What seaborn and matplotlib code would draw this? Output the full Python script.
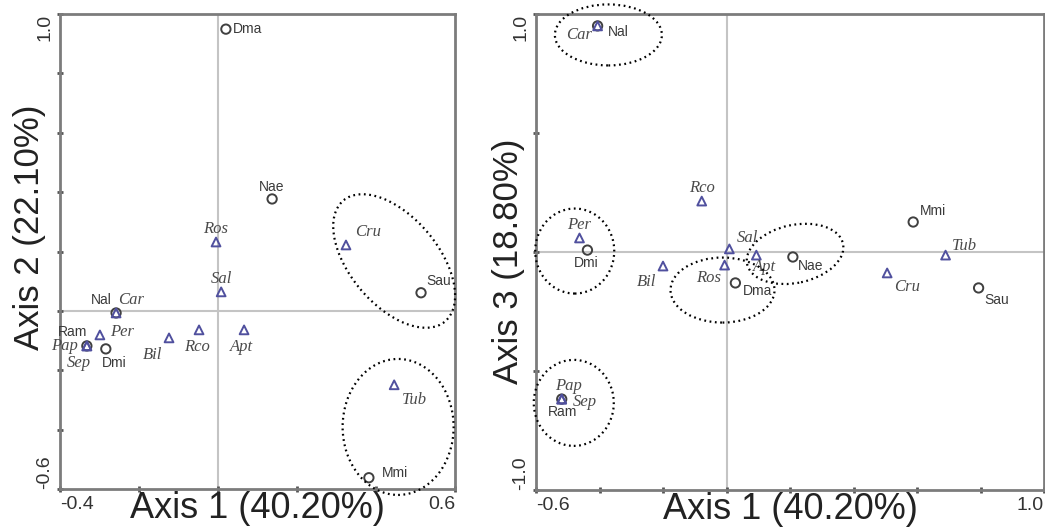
import numpy as np
import pandas as pd
import seaborn as sns
import matplotlib.pyplot as plt
from matplotlib import transforms
from matplotlib.patches import Ellipse

# species (circles) and prey groups (triangles)
species = ['Dma', 'Nae', 'Sau', 'Nal', 'Ram', 'Dmi', 'Mmi']
groups = ['Ros', 'Cru', 'Sal', 'Car', 'Per', 'Pap', 'Sep', 'Bil', 'Rco', 'Apt', 'Tub']

# left plot: axis 1 vs axis 2
sp_x_left = [0.020, 0.137, 0.514, -0.258, -0.332, -0.284, 0.382]
sp_y_left = [0.949, 0.377, 0.061, -0.007, -0.118, -0.128, -0.562]
gr_x_left = [-0.005, 0.324, 0.008, -0.258, -0.299, -0.332, -0.332, -0.124, -0.048, 0.066, 0.446]
gr_y_left = [0.232, 0.222, 0.064, -0.007, -0.081, -0.118, -0.118, -0.091, -0.064, -0.064, -0.249]

# right plot: axis 1 vs axis 3
sp_x_right = [0.028, 0.209, 0.794, -0.406, -0.519, -0.438, 0.588]
sp_y_right = [-0.130, -0.021, -0.151, 0.950, -0.618, 0.008, 0.126]
gr_x_right = [-0.006, 0.506, 0.009, -0.406, -0.463, -0.519, -0.519, -0.200, -0.078, 0.094, 0.690]
gr_y_right = [-0.055, -0.088, 0.013, 0.950, 0.059, -0.618, -0.618, -0.059, 0.214, -0.013, -0.013]

# label placement (pixels from the marker, alignment)
left_offsets = {
    'Dma': (7, 0, 'left'), 'Nae': (0, 12, 'center'), 'Sau': (5, 12, 'left'),
    'Nal': (-4, 13, 'right'), 'Ram': (0, 14, 'right'), 'Dmi': (8, -14, 'center'),
    'Mmi': (13, 5, 'left'),
    'Ros': (0, 13, 'center'), 'Cru': (9, 13, 'left'), 'Sal': (0, 13, 'center'),
    'Car': (2, 13, 'left'), 'Per': (10, 3, 'left'), 'Pap': (-9, 0, 'right'),
    'Sep': (-8, -17, 'center'), 'Bil': (-7, -17, 'right'), 'Rco': (-2, -17, 'center'),
    'Apt': (-3, -17, 'center'), 'Tub': (8, -15, 'left'),
}
right_offsets = {
    'Dma': (7, -8, 'left'), 'Nae': (5, -9, 'left'), 'Sau': (6, -12, 'left'),
    'Nal': (10, -6, 'left'), 'Ram': (1, -13, 'center'), 'Dmi': (-1, -13, 'center'),
    'Mmi': (7, 11, 'left'),
    'Ros': (-4, -13, 'right'), 'Cru': (7, -14, 'left'), 'Sal': (7, 11, 'left'),
    'Car': (-6, -9, 'right'), 'Per': (0, 13, 'center'), 'Pap': (7, 13, 'center'),
    'Sep': (11, -3, 'left'), 'Bil': (-7, -16, 'right'), 'Rco': (0, 13, 'center'),
    'Apt': (8, -12, 'center'), 'Tub': (6, 9, 'left'),
}

# dotted group ellipses: centre (data), width/height in pixels, angle
left_ellipses = [(0.446, 0.168, 158, 88, -50), (0.456, -0.391, 111, 136, 0)]
right_ellipses = [(-0.372, 0.912, 107, 61, 0), (-0.478, 0.004, 79, 85, 0),
                  (-0.481, -0.634, 80, 86, 0), (-0.0125, -0.160, 104, 65, 0),
                  (0.216, -0.008, 98, 58, 12)]

sns.set_theme(style='white')
plt.rcParams['font.family'] = ['Liberation Sans', 'DejaVu Sans']

fig = plt.figure(figsize=(10.45, 5.27), dpi=100)
ax1 = fig.add_axes([60 / 1045, 1 - 489 / 527, 395 / 1045, 475 / 527])
ax2 = fig.add_axes([536 / 1045, 1 - 490 / 527, 508 / 1045, 476 / 527])


def draw_panel(ax, sx, sy, gx, gy, offsets, ellipses, xlim, ylim, xticks, yticks,
               xlab, ylab, ylab_y):
    ax.axhline(0, color='#c4c4c4', lw=1.5, zorder=0)
    ax.axvline(0, color='#c4c4c4', lw=1.5, zorder=0)

    sp = pd.DataFrame({'x': sx, 'y': sy, 'name': species})
    gr = pd.DataFrame({'x': gx, 'y': gy, 'name': groups})
    sns.scatterplot(data=sp, x='x', y='y', marker='o', s=45, ax=ax, zorder=3)
    pts = ax.collections[-1]
    pts.set_facecolor('none')
    pts.set_edgecolor('#404040')
    pts.set_linewidth(1.4)
    sns.scatterplot(data=gr, x='x', y='y', marker='^', s=40, ax=ax, zorder=3)
    pts = ax.collections[-1]
    pts.set_facecolor('none')
    pts.set_edgecolor('#50509e')
    pts.set_linewidth(1.4)

    for _, r in sp.iterrows():
        dx, dy, ha = offsets[r['name']]
        ax.annotate(r['name'], (r['x'], r['y']), xytext=(dx, dy), textcoords='offset pixels',
                    ha=ha, va='center', fontsize=10, color='#3a3a3a')
    for _, r in gr.iterrows():
        dx, dy, ha = offsets[r['name']]
        ax.annotate(r['name'], (r['x'], r['y']), xytext=(dx, dy), textcoords='offset pixels',
                    ha=ha, va='center', fontsize=12, color='#4a4a4a',
                    family='Liberation Serif', style='italic')

    for cx, cy, w, h, ang in ellipses:
        trans = fig.dpi_scale_trans + transforms.ScaledTranslation(cx, cy, ax.transData)
        e = Ellipse((0, 0), w / fig.dpi, h / fig.dpi, angle=ang, transform=trans,
                    fill=False, edgecolor='black', lw=1.6, linestyle=(0, (0.8, 1.6)),
                    clip_on=False, zorder=4)
        ax.add_patch(e)

    ax.set_xlim(*xlim)
    ax.set_ylim(*ylim)
    ax.set_xticks(xticks)
    ax.set_xticklabels([f'{xticks[0]:.1f}'] + [''] * (len(xticks) - 2) + [f'{xticks[-1]:.1f}'])
    ax.set_yticks(yticks)
    ax.set_yticklabels([f'{yticks[0]:.1f}'] + [''] * (len(yticks) - 2) + [f'{yticks[-1]:.1f}'],
                       rotation=90)
    xl = ax.get_xticklabels()
    xl[0].set_ha('left')
    xl[-1].set_ha('right')
    yl = ax.get_yticklabels()
    yl[0].set_va('bottom')
    yl[-1].set_va('top')
    ax.tick_params(axis='both', which='both', direction='inout', length=4, width=2,
                   colors='#555555', labelsize=14, labelcolor='#333333', pad=3,
                   bottom=True, left=True)

    for s in ax.spines.values():
        s.set_color('#7c7c7c')
        s.set_linewidth(2)

    ax.set_xlabel(xlab, fontsize=26, color='#222222')
    ax.xaxis.set_label_coords(0.5, -0.004)
    ax.set_ylabel(ylab, fontsize=25, color='#222222')
    ax.yaxis.set_label_coords(-0.035 if xlim[0] > -0.5 else -0.022, ylab_y)


draw_panel(ax1, sp_x_left, sp_y_left, gr_x_left, gr_y_left, left_offsets, left_ellipses,
           (-0.4, 0.6), (-0.6, 1.0), np.round(np.arange(-0.4, 0.61, 0.2), 1),
           np.round(np.arange(-0.6, 1.01, 0.2), 1),
           'Axis 1 (40.20%)', 'Axis 2 (22.10%)', 0.55)
draw_panel(ax2, sp_x_right, sp_y_right, gr_x_right, gr_y_right, right_offsets, right_ellipses,
           (-0.6, 1.0), (-1.0, 1.0), np.round(np.arange(-0.6, 1.01, 0.2), 1),
           np.round(np.arange(-1.0, 1.01, 0.5), 1),
           'Axis 1 (40.20%)', 'Axis 3 (18.80%)', 0.48)

fig.savefig('out.png', dpi=100)
